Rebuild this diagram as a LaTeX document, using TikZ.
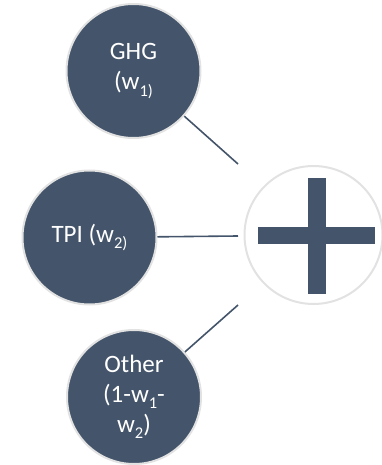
\documentclass[tikz,border=0pt]{standalone}
\usepackage{fontspec}
\setmainfont{Carlito}
\definecolor{slate}{HTML}{44546A}
\definecolor{rimgrey}{HTML}{E2E2E2}
\newcommand\sbx[1]{\raisebox{-0.26em}{\fontsize{16.5}{16.5}\selectfont #1}}
\begin{document}
\begin{tikzpicture}[x=1pt,y=-1pt,
  part/.style={circle, fill=slate, draw=rimgrey, line width=2pt, minimum size=134pt,
    inner sep=0pt, text=white, align=center, font=\fontsize{25}{30}\selectfont},
  link/.style={draw=slate, line width=1.6pt},
  plusring/.style={circle, fill=white, draw=rimgrey, line width=2pt, minimum size=138pt, inner sep=0pt}]
\useasboundingbox (0,0) rectangle (382,465);
\node[part] (ghg) at (133.5,71) {GHG\\(w\sbx{1)}};
\node[part] (tpi) at (89.5,237.5) {TPI (w\sbx{2)}};
\node[part] (oth) at (134,397) {Other\\(1-w\sbx{1}-\\w\sbx{2})};
\node[plusring] (sum) at (313.5,235) {};
\fill[slate] (308,178) rectangle (325.5,294);
\fill[slate] (258,227) rectangle (375,244);
\coordinate (e1) at (238,164);
\coordinate (e2) at (238,236);
\coordinate (e3) at (238,305);
\draw[link] (ghg) -- (e1);
\draw[link] (tpi) -- (e2);
\draw[link] (oth) -- (e3);
\end{tikzpicture}
\end{document}
